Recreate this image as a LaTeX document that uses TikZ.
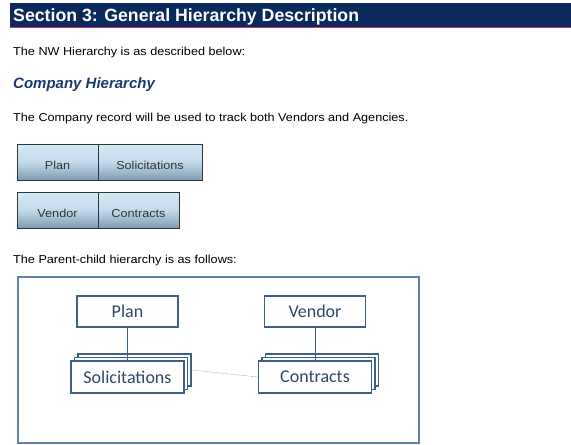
\documentclass[tikz,border=0pt]{standalone}
\usepackage{fontspec}
\setmainfont{Liberation Sans}
\newfontfamily\bodyfont[FakeStretch=1.1]{Liberation Sans}
\newfontfamily\calibri{Carlito}
\usetikzlibrary{positioning}

\definecolor{navy}{HTML}{0B2A5C}
\definecolor{headline}{HTML}{1A3A6E}
\definecolor{boxline}{HTML}{3F6088}
\definecolor{boxtext}{HTML}{2F4866}
\definecolor{frameline}{HTML}{6482A6}
\definecolor{celltop}{HTML}{D3EAF8}
\definecolor{cellbot}{HTML}{7F9DB3}

\begin{document}
\begin{tikzpicture}[x=1pt,y=-1pt,
    txt/.style={anchor=base west,inner sep=0pt,font=\bodyfont\fontsize{11.5}{13}\selectfont},
    cell/.style={draw=black!80,line width=0.8pt,top color=celltop,bottom color=cellbot,
                 middle color=celltop!80!cellbot,minimum height=36pt,inner sep=0pt,
                 text height=14pt,text depth=0pt,
                 font=\bodyfont\fontsize{11.5}{13}\selectfont,text=black!80},
    entity/.style={draw=boxline,line width=1.5pt,fill=white,inner sep=0pt,
                   font=\calibri\fontsize{18}{20}\selectfont,text=boxtext},
    stackbox/.style={entity,minimum width=113pt,minimum height=32pt},
    link/.style={draw=boxline,line width=1pt},
    assoc/.style={draw=gray,densely dotted,line width=0.6pt}]
  \useasboundingbox (0,0) rectangle (571,445);

  % heading
  \fill[navy] (10,3) rectangle (571,27);
  \draw[magenta!70!navy,line width=0.8pt] (10,27.5) -- (571,27.5);
  \node[anchor=base west,inner sep=0pt,text=white,font=\bfseries\fontsize{17.7}{20}\selectfont]
      (title) at (13,21) {Section 3: General Hierarchy Description};

  \node[txt] (intro) at (13,55) {The NW Hierarchy is as described below:};
  \node[txt,font=\bfseries\itshape\fontsize{15}{18}\selectfont,text=headline]
      (company) at (13,88) {Company Hierarchy};
  \node[txt] (record) at (13,121.5) {The Company record will be used to track both Vendors and Agencies.};

  % record tables
  \node[cell,minimum width=81pt]  (plancell) at (57.5,162)  {Plan};
  \node[cell,minimum width=104pt] (solcell)  at (150,162)   {Solicitations};
  \node[cell,minimum width=81pt]  (vendcell) at (57.5,210)  {Vendor};
  \node[cell,minimum width=81pt]  (contcell) at (138.5,210) {Contracts};

  \node[txt] (parent) at (13,263) {The Parent-child hierarchy is as follows:};

  % parent-child diagram
  \draw[frameline,line width=1.5pt] (18,277) rectangle (419,443);
  \node[entity,minimum width=101pt,minimum height=31pt] (plan)   at (127.5,311.5) {Plan};
  \node[entity,minimum width=101pt,minimum height=31pt] (vendor) at (315,311.5)   {Vendor};
  \node[stackbox] (sol3)  at (134.5,370) {};
  \node[stackbox] (sol2)  at (131,373.5) {};
  \node[stackbox] (sol)   at (127.5,377) {Solicitations};
  \node[stackbox] (cont3) at (322,370)   {};
  \node[stackbox] (cont2) at (318.5,373.5) {};
  \node[stackbox] (cont)  at (315,377)   {Contracts};

  \path[link] (plan) -- (sol);
  \path[link] (vendor) -- (cont);
  \path[assoc] (sol3.east) -- (cont.west);
\end{tikzpicture}
\end{document}
